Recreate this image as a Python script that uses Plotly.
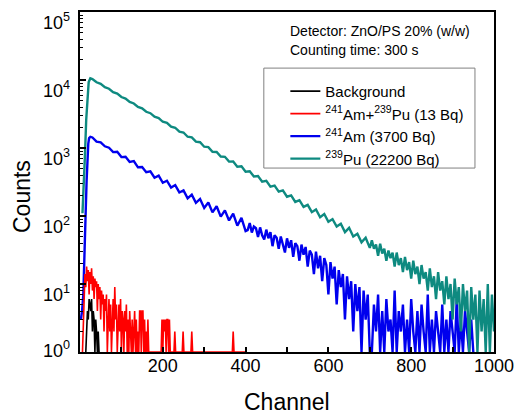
import plotly.graph_objects as go

# ---------------- spectra (channel, counts); zero-count channels plotted at 1 ----------------
# Background
bg_ch = [14, 16, 18, 20, 22, 24, 26, 28, 30, 32, 34, 36, 38, 40, 42, 44, 46, 48]
bg_counts = [1, 2, 4, 3, 6, 5, 4, 6, 2, 4, 3, 1, 3, 2, 1, 2, 1, 1]

# 241Am + 239Pu (13 Bq)
mix_ch = [6, 8, 10, 12, 14, 16, 18, 20, 22, 24, 26, 28, 30, 32, 34, 36, 38, 40, 42, 44,
          46, 48, 50, 52, 54, 56, 58, 60, 62, 64, 66, 68, 70, 72, 74, 76, 78, 80, 82, 84,
          86, 88, 90, 92, 94, 96, 98, 100, 102, 104, 106, 108, 110, 112, 114, 116, 118, 120,
          122, 124, 126, 128, 130, 132, 134, 136, 138, 140, 142, 144, 146, 148, 150, 152,
          154, 156, 158, 160, 162, 164, 166, 170, 196, 198, 200, 202, 204, 206, 208, 210,
          212, 214, 216, 218, 227, 229, 231, 247, 249, 251, 268, 270, 272, 368, 370, 372, 400]
mix_counts = [1, 3, 8, 14, 9, 18, 11, 16, 7, 15, 10, 17, 8, 13, 6, 12, 9, 11, 4, 10,
              6, 9, 3, 8, 5, 7, 2, 6, 4, 7, 1, 5, 6, 2, 5, 1, 4, 6, 2, 9,
              3, 5, 1, 4, 5, 2, 6, 1, 4, 3, 1, 4, 2, 5, 1, 3, 1, 4,
              2, 1, 3, 1, 2, 4, 1, 3, 1, 2, 1, 4, 4, 1, 4, 4,
              1, 3, 1, 2, 1, 3, 1, 1, 1, 3, 1, 3, 2, 3, 1, 3,
              3, 1, 3, 1, 1, 2, 1, 1, 2, 1, 1, 2, 1, 1, 2, 1, 1]

# 241Am (3700 Bq)
am_ch = [2, 5, 8, 10, 12, 14, 16, 18, 20, 22, 25,
         30, 40, 50, 60, 70, 80, 90, 100, 110, 120, 130, 140, 150, 160, 170, 180, 190, 200,
         210, 220, 230, 240, 250, 260, 270, 280, 290, 300, 310, 320, 330, 340, 350, 360,
         370, 380, 390, 400,
         405, 410, 415, 420, 425, 430, 435, 440, 445, 450, 455, 460, 465, 470, 475, 480,
         485, 490, 495, 500, 505, 510, 515, 520, 525, 530, 535, 540, 545, 550, 555, 560,
         565, 570, 575, 580, 585, 590, 595, 600, 605, 610, 615, 620, 625, 630, 635, 640,
         645, 650, 655, 660, 665, 670, 675, 680, 685, 690, 695, 700,
         705, 710, 715, 720, 725, 730, 735, 740, 745, 750, 755, 760, 765, 770, 775, 780,
         785, 790, 795, 800, 805, 810, 815, 820, 825, 830, 835, 840, 845, 850, 855, 860,
         865, 870, 875, 880, 885, 890, 895, 900, 905, 910, 915, 920, 925, 930, 935, 940,
         945, 950]
am_counts = [3, 4, 7, 15, 45, 130, 330, 700, 1150, 1400, 1460,
             1430, 1240, 1210, 1060, 1010, 870, 880, 735, 745, 625, 640, 520, 525, 440, 455,
             365, 392, 308, 330, 262, 285, 222, 238, 182, 206, 156, 178, 131, 158, 113, 139,
             98, 121, 86, 108, 72, 94, 60,
             62, 79, 57, 70, 66, 49, 68, 52, 45, 63, 47, 58, 36, 52, 48, 33,
             50, 39, 29, 47, 34, 44, 25, 40, 36, 22, 38, 27, 35, 18, 31, 27,
             14, 30, 17, 26, 11, 24, 19, 7, 21, 12, 18, 5, 16, 9, 14, 3,
             13, 6, 11, 2, 10, 4, 9, 1, 8, 3, 7, 1,
             1, 5, 2, 7, 1, 4, 1, 6, 2, 3, 1, 8, 1, 4, 2, 5,
             1, 3, 1, 6, 2, 1, 4, 1, 5, 2, 1, 7, 1, 3, 1, 4,
             2, 1, 5, 1, 3, 1, 4, 2, 1, 6, 1, 3, 1, 4, 2, 1,
             3, 1]

# 239Pu (22200 Bq)
pu_ch = [6, 9, 12, 15, 18, 21, 25,
         30, 40, 50, 60, 70, 80, 90, 100, 110, 120, 130, 140, 150, 160, 170, 180, 190, 200,
         210, 220, 230, 240, 250, 260, 270, 280, 290, 300, 310, 320, 330, 340, 350, 360,
         370, 380, 390, 400, 410, 420, 430, 440, 450, 460, 470, 480, 490, 500, 510, 520,
         530, 540, 550, 560, 570, 580, 590, 600, 610, 620, 630, 640, 650, 660, 670, 680,
         690, 700,
         705, 710, 715, 720, 725, 730, 735, 740, 745, 750, 755, 760, 765, 770, 775, 780,
         785, 790, 795, 800, 805, 810, 815, 820, 825, 830, 835, 840, 845, 850, 855, 860,
         865, 870, 875, 880, 885, 890, 895, 900, 905, 910, 915, 920, 925, 930, 935, 940,
         945, 950, 955, 960, 965, 970, 975, 980, 985, 990, 995, 1000]
pu_counts = [110, 250, 800, 2600, 6000, 9300, 10600,
             10350, 9250, 8790, 7840, 7440, 6640, 6300, 5620, 5340, 4760, 4520, 4030, 3830,
             3410, 3250, 2880, 2760, 2430, 2340, 2055, 1985, 1735, 1690, 1465, 1430, 1240,
             1215, 1045, 1030, 882, 875, 748, 742, 630, 632, 532, 538, 448, 455, 380, 388,
             320, 328, 270, 280, 228, 238, 192, 201, 161, 171, 136, 146, 114, 125, 96, 107,
             82, 90, 70, 77, 58, 67, 50, 55, 41, 48, 34,
             44, 33, 38, 26, 39, 28, 33, 22, 31, 24, 29, 18, 29, 19, 24, 15,
             25, 16, 21, 12, 22, 14, 18, 10, 19, 12, 15, 8, 17, 9, 13, 6,
             15, 8, 11, 5, 13, 6, 10, 3, 12, 5, 9, 2, 10, 4, 8, 1,
             9, 3, 7, 1, 8, 2, 6, 1, 10, 1, 7, 2]

# axis labels
x_tick_vals = [200, 400, 600, 800, 1000]
y_decades = [0, 1, 2, 3, 4, 5]

FONT = "Arial, 'Liberation Sans', sans-serif"

fig = go.Figure()
fig.add_trace(go.Scatter(x=am_ch, y=am_counts, mode="lines",
                         line=dict(color="#0000EE", width=2.4),
                         name="<sup>241</sup>Am (3700 Bq)", legendrank=3))
fig.add_trace(go.Scatter(x=pu_ch, y=pu_counts, mode="lines",
                         line=dict(color="#0E8A80", width=2.4),
                         name="<sup>239</sup>Pu (22200 Bq)", legendrank=4))
fig.add_trace(go.Scatter(x=mix_ch, y=mix_counts, mode="lines",
                         line=dict(color="#FF0000", width=1.6),
                         name="<sup>241</sup>Am+<sup>239</sup>Pu (13 Bq)", legendrank=2))
fig.add_trace(go.Scatter(x=bg_ch, y=bg_counts, mode="lines",
                         line=dict(color="#000000", width=1.6),
                         name="Background", legendrank=1))

minor_y = [m * 10 ** e for e in y_decades[:-1] for m in range(2, 10)]

# decade labels on the count axis, set just below their tick marks
y_labels = [dict(text=f"10<sup>{d}</sup>", xref="paper", yref="y", x=-0.02, y=d,
                 xanchor="right", yanchor="middle", showarrow=False,
                 yshift=(3 if d == 0 else -9),
                 font=dict(size=18, family=FONT))
            for d in y_decades]

fig.update_layout(
    width=516, height=418,
    margin=dict(l=80, r=22, t=12, b=66, autoexpand=False),
    paper_bgcolor="white", plot_bgcolor="white",
    font=dict(family=FONT, color="black"),
    showlegend=True,
    legend=dict(x=0.496, y=0.815, xanchor="left", yanchor="top",
                bgcolor="rgba(0,0,0,0)", borderwidth=0,
                font=dict(size=15, family=FONT), traceorder="normal"),
    xaxis=dict(range=[0, 1000], tickmode="array", tickvals=x_tick_vals,
               ticks="inside", ticklen=5, tickwidth=1.5, tickcolor="black",
               minor=dict(tickmode="array", tickvals=[100, 300, 500, 700, 900],
                          ticks="inside", ticklen=5, tickwidth=1.5, tickcolor="black"),
               showline=True, linewidth=2, linecolor="black", mirror=True,
               showgrid=False, zeroline=False, automargin=False,
               ticklabelstandoff=-4, ticklabeloverflow="allow",
               tickfont=dict(size=18, family=FONT)),
    yaxis=dict(type="log", range=[0, 5], tickmode="array",
               tickvals=[10 ** d for d in y_decades], showticklabels=False,
               ticks="inside", ticklen=6, tickwidth=1.5, tickcolor="black",
               minor=dict(tickmode="array", tickvals=minor_y, ticks="inside",
                          ticklen=3, tickwidth=1, tickcolor="black"),
               showline=True, linewidth=2, linecolor="black", mirror=True,
               showgrid=False, zeroline=False, automargin=False),
    shapes=[dict(type="rect", xref="paper", yref="paper",
                 x0=0.444, x1=0.954, y0=0.541, y1=0.835,
                 line=dict(color="#808080", width=1), fillcolor="rgba(0,0,0,0)")],
    annotations=y_labels + [
        dict(text="Detector: ZnO/PS 20% (w/w)", xref="paper", yref="paper",
             x=0.502, y=0.944, xanchor="left", yanchor="middle", showarrow=False,
             font=dict(size=14, family=FONT)),
        dict(text="Counting time: 300 s", xref="paper", yref="paper",
             x=0.502, y=0.888, xanchor="left", yanchor="middle", showarrow=False,
             font=dict(size=14, family=FONT)),
        dict(text="Counts", xref="paper", yref="paper", x=-0.140, y=0.456,
             xanchor="center", yanchor="middle", textangle=-90, showarrow=False,
             font=dict(size=23, family=FONT)),
        dict(text="Channel", xref="paper", yref="paper", x=0.5, y=-0.147,
             xanchor="center", yanchor="middle", showarrow=False,
             font=dict(size=23, family=FONT)),
    ],
)

fig.write_html("out.html")
